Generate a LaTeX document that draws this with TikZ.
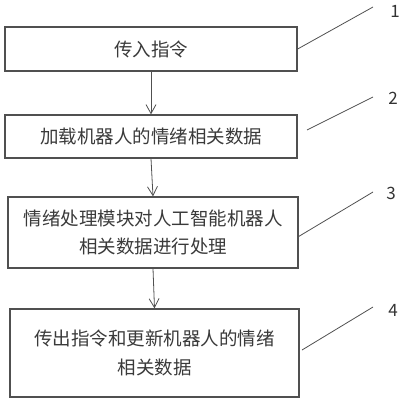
\documentclass[tikz,border=0pt]{standalone}
\usepackage{fontspec}
\setmainfont{Noto Sans CJK SC}
\usetikzlibrary{arrows.meta}
\definecolor{txt}{HTML}{3A3A3A}
\definecolor{ln}{HTML}{505050}
\tikzset{
  stepbox/.style={draw=ln, line width=1.3pt, text=txt, align=center, font=\fontsize{18.5}{28.5}\selectfont, inner sep=0pt},
  flow/.style={draw=ln, line width=0.8pt, -{Straight Barb[length=9pt,width=10pt]}},
  leader/.style={draw=ln, line width=0.8pt},
  num/.style={text=black!80, font=\fontsize{17}{20}\selectfont, inner sep=0pt}
}
\begin{document}
\begin{tikzpicture}[x=1pt,y=-1pt]
\useasboundingbox (0,0) rectangle (406,400);
\node[stepbox, minimum width=292pt, minimum height=44pt] (b1) at (151,49) {传入指令};
\node[stepbox, minimum width=292pt, minimum height=43pt] (b2) at (151,136.5) {加载机器人的情绪相关数据};
\node[stepbox, minimum width=290pt, minimum height=71pt] (b3) at (153,232.5) {情绪处理模块对人工智能机器人\\相关数据进行处理};
\node[stepbox, minimum width=289pt, minimum height=88pt] (b4) at (154.5,353) {传出指令和更新机器人的情绪\\相关数据};
\draw[flow] (b1.south) -- (b2.north);
\draw[flow] (b2.south) -- (b3.north);
\draw[flow] (b3.south) -- (b4.north);
\node[num] (n1) at (395,11) {1};
\node[num] (n2) at (393,98) {2};
\node[num] (n3) at (391,193) {3};
\node[num] (n4) at (393,310) {4};
\coordinate (e1) at (373,7);
\coordinate (e2) at (373,97);
\coordinate (e3) at (373,192);
\coordinate (e4) at (373,307);
\coordinate (s2) at (307,130);
\coordinate (s4) at (302,350);
\draw[leader] (b1.east) -- (e1);
\draw[leader] (s2) -- (e2);
\draw[leader] ([yshift=-4pt]b3.east) -- (e3);
\draw[leader] (s4) -- (e4);
\end{tikzpicture}
\end{document}
